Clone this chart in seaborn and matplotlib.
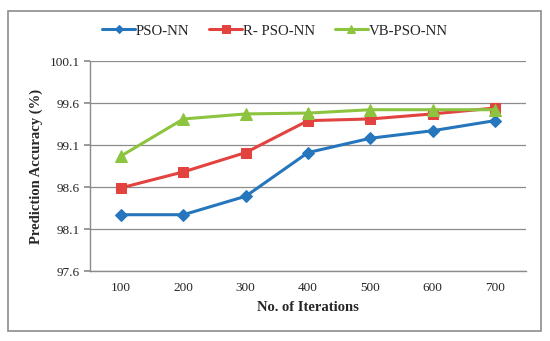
import numpy as np
import pandas as pd
import matplotlib
matplotlib.use('Agg')
import matplotlib.pyplot as plt
from matplotlib.patches import Rectangle
import seaborn as sns

# Data
iterations = ['100', '200', '300', '400', '500', '600', '700']
pso_nn = [98.27, 98.27, 98.49, 99.01, 99.18, 99.27, 99.39]
r_pso_nn = [98.59, 98.78, 99.01, 99.39, 99.41, 99.47, 99.54]
vb_pso_nn = [98.97, 99.41, 99.47, 99.48, 99.52, 99.52, 99.52]
series_names = ['PSO-NN', 'R- PSO-NN', 'VB-PSO-NN']
y_ticks = [97.6, 98.1, 98.6, 99.1, 99.6, 100.1]

sns.set_theme(style='white')
plt.rcParams['font.family'] = ['Liberation Serif', 'DejaVu Serif']

df = pd.DataFrame({
    'pos': list(range(len(iterations))) * 3,
    'acc': pso_nn + r_pso_nn + vb_pso_nn,
    'series': [s for s in series_names for _ in iterations],
})

colors = {'PSO-NN': '#2576BC', 'R- PSO-NN': '#E2433F', 'VB-PSO-NN': '#8CC43F'}
markers = {'PSO-NN': 'D', 'R- PSO-NN': 's', 'VB-PSO-NN': '^'}
msizes = {'PSO-NN': 6, 'R- PSO-NN': 7.5, 'VB-PSO-NN': 8}

fig = plt.figure(figsize=(5.5, 3.41), dpi=100)
ax = fig.add_axes([90 / 550, 1 - 271 / 341, 436 / 550, 210 / 341])

for name in series_names:
    sub = df[df['series'] == name]
    sns.lineplot(data=sub, x='pos', y='acc', ax=ax, color=colors[name],
                 marker=markers[name], markersize=msizes[name],
                 markeredgecolor=colors[name], linewidth=2.2, label=name)

ax.set_ylim(97.6, 100.1)
ax.set_yticks(y_ticks)
ax.set_yticklabels([f'{t:.1f}' for t in y_ticks], fontsize=9.5)
ax.yaxis.grid(True, color='#8c8c8c', linewidth=0.9)
ax.set_xlim(-0.5, len(iterations) - 0.5)
ax.set_xticks(np.arange(len(iterations)))
ax.set_xticklabels(iterations, fontsize=9.5)
ax.set_xticks(np.arange(len(iterations) + 1) - 0.5, minor=True)
ax.tick_params(axis='x', which='major', length=0, pad=8)
ax.tick_params(axis='x', which='minor', length=4, color='#8c8c8c', direction='out')
ax.tick_params(axis='y', length=4, color='#8c8c8c', direction='out', left=True)
ax.set_axisbelow(True)

for side in ['top', 'right']:
    ax.spines[side].set_visible(False)
for side in ['left', 'bottom']:
    ax.spines[side].set_color('#8c8c8c')
    ax.spines[side].set_linewidth(1)

ax.set_xlabel('No. of Iterations', fontsize=10.5, fontweight='bold', labelpad=5)
ax.set_ylabel('Prediction Accuracy (%)', fontsize=10.5, fontweight='bold', labelpad=5)

ax.legend(loc='center', bbox_to_anchor=(0.5, 1 - 31 / 341), bbox_transform=fig.transFigure,
          ncol=3, frameon=False, fontsize=10.7, handlelength=2.2, columnspacing=1.35,
          handletextpad=0.05, markerscale=0.7)

fig.patches.append(Rectangle((8 / 550, 1 - 331 / 341), 533 / 550, 320 / 341,
                             transform=fig.transFigure, fill=False,
                             edgecolor='#8c8c8c', linewidth=1.2))

fig.savefig('out.png', dpi=100)
